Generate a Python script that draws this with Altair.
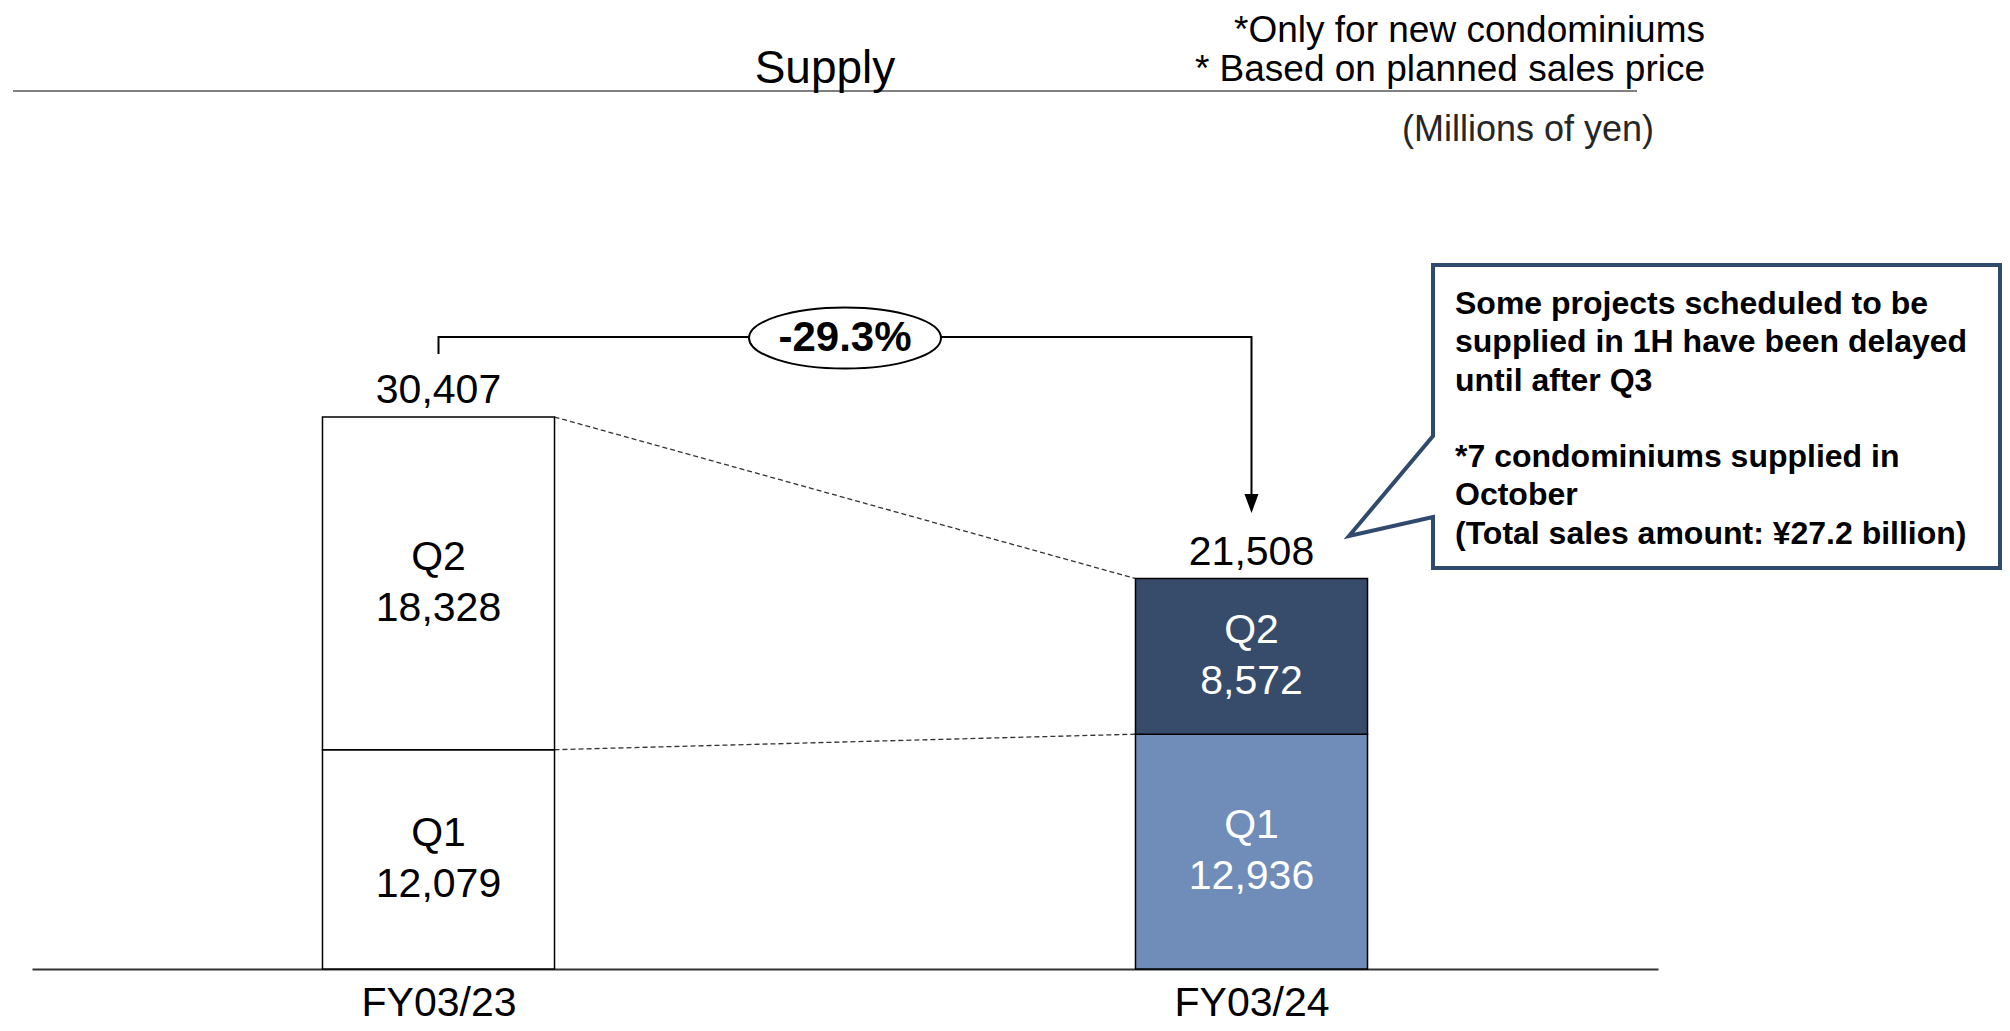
import json
import altair as alt
import pandas as pd

# ---------------- data ----------------
categories = ["FY03/23", "FY03/24"]
segment_names = ["Q1", "Q2"]
q1_values = [12079, 12936]
q2_values = [18328, 8572]
totals = [30407, 21508]
change_label = "-29.3%"
chart_title = "Supply"
notes = ["*Only for new condominiums", "* Based on planned sales price"]
unit_label = "(Millions of yen)"
callout_block1 = [
    "Some projects scheduled to be",
    "supplied in 1H have been delayed",
    "until after Q3",
]
callout_block2 = [
    "*7 condominiums supplied in",
    "October",
    "(Total sales amount: \u00a527.2 billion)",
]
segment_fills = [["#FFFFFF", "#FFFFFF"], ["#6F8DB8", "#374B6B"]]
segment_text_colors = [["black", "black"], ["white", "white"]]

# ---------------- layout ----------------
FONT = "Liberation Sans"
PLOT_W, PLOT_H = 1626, 961
PAD = {"left": 24, "top": 0, "right": 344, "bottom": 54}
X_MIN, X_MAX = -0.5, 1.5
Y_MAX = 52937
BAR_HALF = 0.1427
LABEL_LH = 51
CALL_LH = 38.3


def px_x(px):
    return X_MIN + px / PLOT_W * (X_MAX - X_MIN)


def px_y(py):
    return (PLOT_H - py) / PLOT_H * Y_MAX


xscale = alt.Scale(domain=[X_MIN, X_MAX], nice=False, zero=False)
yscale = alt.Scale(domain=[0, Y_MAX], nice=False, zero=False)
xax = alt.Axis(
    values=[0, 1],
    labelExpr=json.dumps(categories) + "[datum.value]",
    title=None, grid=False, ticks=False, tickSize=0,
    domainColor="#333333", domainWidth=2,
    labelFont=FONT, labelFontSize=41, labelColor="black",
    labelPadding=46, labelBaseline="alphabetic",
    labelFlush=False, labelOverlap=False,
)


def X(field):
    return alt.X(field, scale=xscale, axis=xax)


def Y(field):
    return alt.Y(field, scale=yscale, axis=None)


# segments
rows = []
for i, cat in enumerate(categories):
    starts = [0, q1_values[i]]
    vals = [q1_values[i], q2_values[i]]
    for j, name in enumerate(segment_names):
        rows.append({
            "cat": cat, "pos": i,
            "x0": i - BAR_HALF, "x1": i + BAR_HALF,
            "y0": starts[j], "y1": starts[j] + vals[j],
            "ymid": starts[j] + vals[j] / 2,
            "label": f"{name}\n{vals[j]:,}",
            "fill": segment_fills[i][j],
            "tcolor": segment_text_colors[i][j],
        })
seg = pd.DataFrame(rows)

bars = alt.Chart(seg).mark_rect(stroke="black", strokeWidth=1.5).encode(
    x=X("x0:Q"), x2="x1:Q", y=Y("y0:Q"), y2="y1:Q",
    fill=alt.Fill("fill:N", scale=None),
)

seg_text = alt.Chart(seg).mark_text(
    font=FONT, fontSize=41, lineHeight=LABEL_LH, lineBreak="\n", baseline="middle",
    align="center", dy=-LABEL_LH / 2
).encode(x=X("pos:Q"), y=Y("ymid:Q"), text="label:N", color=alt.Color("tcolor:N", scale=None))

tot = pd.DataFrame({"pos": [0, 1], "total": totals, "label": [f"{v:,}" for v in totals]})
tot_text = alt.Chart(tot).mark_text(
    font=FONT, fontSize=41, baseline="alphabetic", dy=-14, align="center", color="black"
).encode(x=X("pos:Q"), y=Y("total:Q"), text="label:N")

conn = pd.DataFrame({
    "xa": [BAR_HALF, BAR_HALF], "ya": [totals[0], q1_values[0]],
    "xb": [1 - BAR_HALF, 1 - BAR_HALF], "yb": [totals[1], q1_values[1]],
})
connectors = alt.Chart(conn).mark_rule(color="#333333", strokeWidth=1.3, strokeDash=[5, 3]).encode(
    x=X("xa:Q"), y=Y("ya:Q"), x2="xb:Q", y2="yb:Q"
)

# bracket with change
br = pd.DataFrame({
    "x": [0, 0, 1, 1],
    "y": [px_y(346), px_y(329), px_y(329), px_y(500)],
    "o": [0, 1, 2, 3],
})
bracket = alt.Chart(br).mark_line(color="black", strokeWidth=2, strokeJoin="miter").encode(
    x=X("x:Q"), y=Y("y:Q"), order="o:Q"
)
arrow = alt.Chart(pd.DataFrame({"x": [1], "y": [px_y(505)]})).mark_point(
    shape="M-1,-2.7L1,-2.7L0,0Z", size=196, filled=True, fill="black", opacity=1, strokeWidth=0
).encode(x=X("x:Q"), y=Y("y:Q"))
ell_df = pd.DataFrame({"x": [0.5], "y": [px_y(330)], "t": [change_label]})
ellipse = alt.Chart(ell_df).mark_point(
    shape="M-1,0A1,0.318 0 1,1 1,0A1,0.318 0 1,1 -1,0Z", size=192 * 192,
    filled=True, fill="white", stroke="black", strokeWidth=2, opacity=1
).encode(x=X("x:Q"), y=Y("y:Q"))
change_text = alt.Chart(ell_df).mark_text(
    font=FONT, fontSize=42, fontWeight="bold", baseline="middle", align="center", color="black"
).encode(x=X("x:Q"), y=Y("y:Q"), text="t:N")

# callout
cx = [1600, 1968, 1968, 1401, 1401, 1317, 1401, 1401, 1600]
cy = [257, 257, 560, 560, 509, 528, 428, 257, 257]
call = pd.DataFrame({"x": [px_x(v) for v in cx], "y": [px_y(v) for v in cy], "o": list(range(len(cx)))})
callout = alt.Chart(call).mark_line(color="#2F4A6C", strokeWidth=4, strokeJoin="miter").encode(
    x=X("x:Q"), y=Y("y:Q"), order="o:Q"
)
call_df = pd.DataFrame({
    "t": ["\n".join(callout_block1), "\n".join(callout_block2)],
    "x": [px_x(1423), px_x(1423)],
    "y": [px_y(296), px_y(296 + 4 * CALL_LH)],
})
call_text = alt.Chart(call_df).mark_text(
    font=FONT, fontSize=32, fontWeight="bold", lineHeight=CALL_LH, lineBreak="\n",
    align="left", baseline="middle", color="black"
).encode(x=X("x:Q"), y=Y("y:Q"), text="t:N")

# header
title_text = alt.Chart(pd.DataFrame({"t": [chart_title]})).mark_text(
    font=FONT, fontSize=46, align="center", baseline="alphabetic", color="black"
).encode(x=alt.value(793), y=alt.value(75), text="t:N")
header_rule = alt.Chart(pd.DataFrame({"a": [0]})).mark_rule(color="#808080", strokeWidth=2).encode(
    x=alt.value(-19), x2=alt.value(1605), y=alt.value(83)
)
notes_text = alt.Chart(pd.DataFrame({"t": ["\n".join(notes)]})).mark_text(
    font=FONT, fontSize=37, lineHeight=39, lineBreak="\n", align="right", baseline="alphabetic", color="black"
).encode(x=alt.value(1673), y=alt.value(34), text="t:N")
unit_text = alt.Chart(pd.DataFrame({"t": [unit_label]})).mark_text(
    font=FONT, fontSize=36, align="right", baseline="alphabetic", color="#262626"
).encode(x=alt.value(1622), y=alt.value(133), text="t:N")

chart = alt.layer(
    header_rule, title_text, notes_text, unit_text,
    connectors, bars, seg_text, tot_text,
    bracket, arrow, ellipse, change_text,
    callout, call_text,
).properties(
    width=PLOT_W, height=PLOT_H, padding=PAD,
    autosize=alt.AutoSizeParams(type="none"),
    background="white",
).configure_view(stroke=None)

chart.save("out.html", embed_options={"renderer": "svg", "actions": False})
